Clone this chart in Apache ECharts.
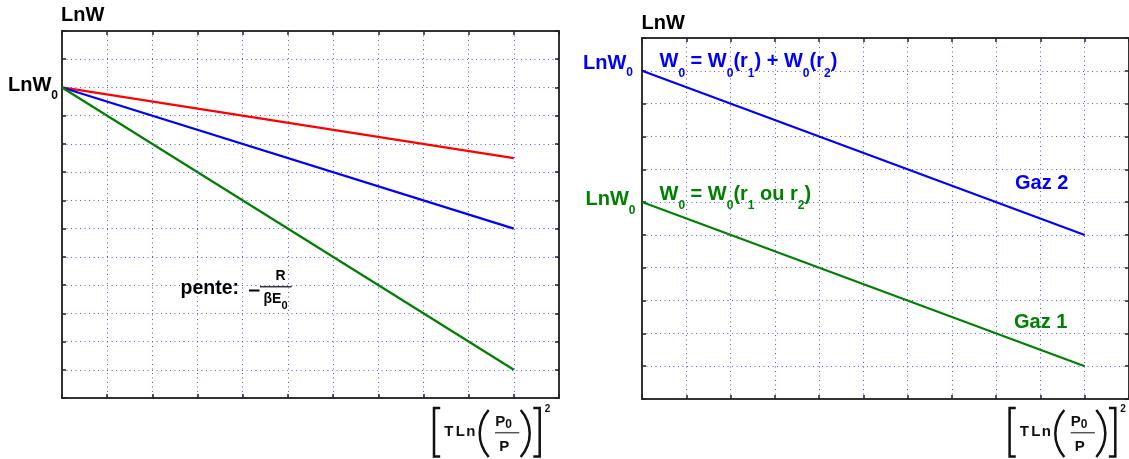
<!DOCTYPE html>
<html>
<head>
<meta charset="utf-8">
<script src="https://cdn.jsdelivr.net/npm/echarts@6/dist/echarts.min.js"></script>
<style>
html,body{margin:0;padding:0;background:#fff;}
#chart{width:1129px;height:459px;}
</style>
</head>
<body>
<div id="chart"></div>
<script>
// ---- data ----
const xEnds = [0, 10];
const leftRed = [11, 8.5];
const leftBlue = [11, 6];
const leftGreen = [11, 1];
const rightGaz2 = [10, 5];
const rightGaz1 = [6, 1];
const leftXRange = [0, 11];
const leftYRange = [0, 13];
const rightXRange = [0, 11];
const rightYRange = [0, 11];

const FONT = '"Liberation Sans", Arial, sans-serif';
const BLUE = '#0000ff';
const GREEN = '#008000';
const RED = '#ff0000';
const GRIDC = '#3a3aff';

function pairs(ys) { return xEnds.map((x, i) => [x, ys[i]]); }

function boxAxes(gridIndex, xr, yr) {
  const tick = { show: true, inside: true, length: 4, lineStyle: { color: '#222', width: 1.5 } };
  const line = { show: true, onZero: false, lineStyle: { color: '#333333', width: 2 } };
  const split = { show: true, lineStyle: { color: GRIDC, width: 1, type: [1, 3.5], opacity: 0.85 } };
  const xa = [
    { type: 'value', gridIndex, min: xr[0], max: xr[1], interval: 1, position: 'bottom',
      axisLine: line, axisTick: tick, axisLabel: { show: false }, splitLine: split },
    { type: 'value', gridIndex, min: xr[0], max: xr[1], interval: 1, position: 'top',
      axisLine: line, axisTick: tick, axisLabel: { show: false }, splitLine: { show: false } }
  ];
  const ya = [
    { type: 'value', gridIndex, min: yr[0], max: yr[1], interval: 1, position: 'left',
      axisLine: line, axisTick: tick, axisLabel: { show: false }, splitLine: split },
    { type: 'value', gridIndex, min: yr[0], max: yr[1], interval: 1, position: 'right',
      axisLine: line, axisTick: tick, axisLabel: { show: false }, splitLine: { show: false } }
  ];
  return { xa, ya };
}

const L = boxAxes(0, leftXRange, leftYRange);
const R = boxAxes(1, rightXRange, rightYRange);

function lineSeries(name, data, color, xi, yi) {
  return { name, type: 'line', data, xAxisIndex: xi, yAxisIndex: yi, showSymbol: false,
    symbol: 'none', lineStyle: { color, width: 2.2 }, itemStyle: { color }, z: 5, silent: true };
}

function txt(text, x, y, color, size, rich) {
  const st = { text, x, y, fill: color, font: 'bold ' + size + 'px ' + FONT,
    align: 'left', verticalAlign: 'middle' };
  if (rich) st.rich = rich;
  return { type: 'text', style: st, z: 10 };
}

function subRich(color, mainSize, subSize, shift) {
  return {
    m: { fontSize: mainSize, fontWeight: 'bold', fontFamily: FONT, fill: color, color: color },
    s: { fontSize: subSize, fontWeight: 'bold', fontFamily: FONT, fill: color, color: color,
         padding: [shift * 2, 0, 0, 0] }
  };
}

// x-axis label "[ T Ln ( P0 / P ) ]^2"
function xLabel(x0) {
  const k = '#111';
  const els = [];
  els.push({ type: 'polyline', shape: { points: [[x0 + 7.5, 408], [x0 + 1.3, 408], [x0 + 1.3, 456.5], [x0 + 7.5, 456.5]] },
    style: { stroke: k, lineWidth: 2.5, fill: null }, z: 10 });
  els.push(txt('T', x0 + 11.5, 432, k, 15));
  els.push(txt('L', x0 + 23, 432, k, 15));
  els.push(txt('n', x0 + 33.5, 432, k, 15));
  els.push({ type: 'bezierCurve', shape: { x1: x0 + 56, y1: 410, cpx1: x0 + 44, cpy1: 424, cpx2: x0 + 44, cpy2: 443, x2: x0 + 56, y2: 457 },
    style: { stroke: k, lineWidth: 2.5, fill: null }, z: 10 });
  els.push(txt('{m|P}{s|0}', x0 + 62.5, 421.5, k, 15, subRich(k, 15, 12, 3.5)));
  els.push({ type: 'line', shape: { x1: x0 + 62.3, y1: 432.7, x2: x0 + 86.6, y2: 432.7 },
    style: { stroke: '#555', lineWidth: 1.5 }, z: 10 });
  els.push(txt('P', x0 + 66.5, 447, k, 15));
  els.push({ type: 'bezierCurve', shape: { x1: x0 + 88, y1: 410, cpx1: x0 + 100, cpy1: 424, cpx2: x0 + 100, cpy2: 443, x2: x0 + 88, y2: 457 },
    style: { stroke: k, lineWidth: 2.5, fill: null }, z: 10 });
  els.push({ type: 'polyline', shape: { points: [[x0 + 100.6, 408], [x0 + 107, 408], [x0 + 107, 456.5], [x0 + 100.6, 456.5]] },
    style: { stroke: k, lineWidth: 2.5, fill: null }, z: 10 });
  els.push(txt('2', x0 + 112, 409.7, k, 10));
  return els;
}

const graphics = [
  txt('LnW', 61, 15.5, '#000', 20),
  txt('LnW', 641.5, 23, '#000', 20),
  txt('{m|LnW}{s|0}', 8, 85.5, '#000', 20, subRich('#000', 20, 12, 10)),
  txt('{m|LnW}{s|0}', 583, 63.3, BLUE, 20, subRich(BLUE, 20, 12, 9.5)),
  txt('{m|W}{s|0}{m| = W}{s|0}{m|(r}{s|1}{m|) + W}{s|0}{m|(r}{s|2}{m|)}', 659.5, 61.7, BLUE, 20, subRich(BLUE, 20, 12, 12)),
  txt('{m|LnW}{s|0}', 585.5, 199.2, GREEN, 20, subRich(GREEN, 20, 12, 11.5)),
  txt('{m|W}{s|0}{m| = W}{s|0}{m|(r}{s|1}{m| ou r}{s|2}{m|)}', 659.5, 194.3, GREEN, 20, subRich(GREEN, 20, 12, 11.5)),
  txt('Gaz 2', 1015, 183, BLUE, 20),
  txt('Gaz 1', 1014, 322, GREEN, 20),
  txt('pente:', 180.5, 288.5, '#000', 19.5),
  { type: 'line', shape: { x1: 249, y1: 290.5, x2: 259.5, y2: 290.5 }, style: { stroke: '#000', lineWidth: 2 }, z: 10 },
  { type: 'line', shape: { x1: 260, y1: 286.7, x2: 291.7, y2: 286.7 }, style: { stroke: '#333', lineWidth: 1.5 }, z: 10 },
  txt('R', 275.5, 276.5, '#000', 14),
  txt('{m|βE}{s|0}', 263.5, 299.5, '#000', 14, subRich('#000', 14, 11, 6))
].concat(xLabel(432.7), xLabel(1008.3));

const option = {
  animation: false,
  backgroundColor: '#ffffff',
  grid: [
    { left: 62, top: 31, width: 497, height: 367, containLabel: false },
    { left: 642, top: 38, width: 490.6, height: 361, containLabel: false }
  ],
  xAxis: L.xa.concat(R.xa),
  yAxis: L.ya.concat(R.ya),
  series: [
    lineSeries('rouge', pairs(leftRed), RED, 0, 0),
    lineSeries('bleu', pairs(leftBlue), BLUE, 0, 0),
    lineSeries('vert', pairs(leftGreen), GREEN, 0, 0),
    lineSeries('Gaz 2', pairs(rightGaz2), BLUE, 2, 2),
    lineSeries('Gaz 1', pairs(rightGaz1), GREEN, 2, 2)
  ],
  graphic: graphics
};

const chart = echarts.init(document.getElementById('chart'), null, { renderer: 'canvas' });
chart.setOption(option);
</script>
</body>
</html>
